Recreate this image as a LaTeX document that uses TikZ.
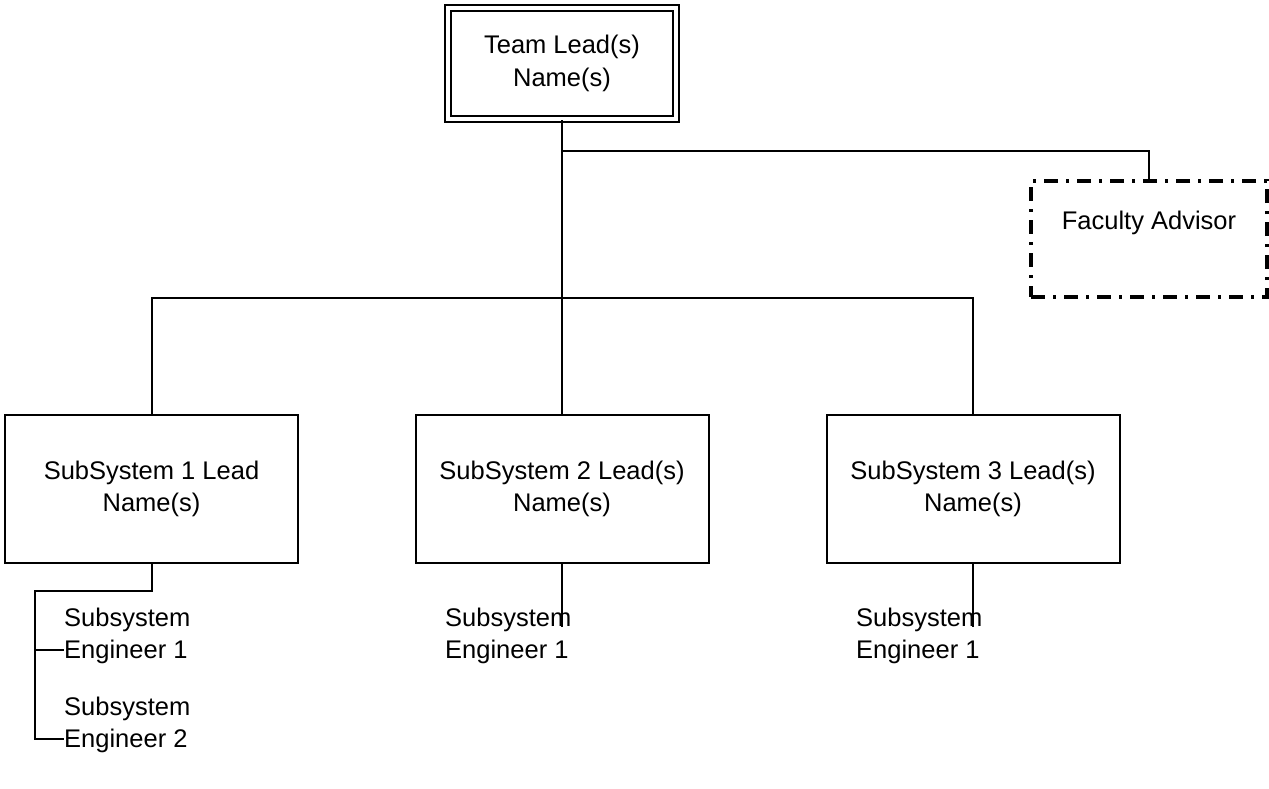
\documentclass[tikz,border=0pt]{standalone}
\usepackage{fontspec}
\setmainfont{Liberation Sans}
\begin{document}
\begin{tikzpicture}[x=1pt,y=-1pt,
  txt/.style={font=\fontsize{25.5}{32}\selectfont, align=center, inner sep=0pt},
  ltxt/.style={font=\fontsize{25.5}{32}\selectfont, align=left, inner sep=0pt, anchor=west},
  ssbox/.style={draw, line width=2pt, minimum width=293pt, minimum height=148pt, inner sep=0pt, font=\fontsize{25.5}{32}\selectfont, align=center},
  leadbox/.style={draw, double, double distance=4pt, line width=2pt, minimum width=228pt, minimum height=111pt, inner sep=0pt, font=\fontsize{25.5}{32}\selectfont, align=center},
  advbox/.style={draw, line width=3.5pt, dash pattern=on 14pt off 8pt on 3pt off 8pt, minimum width=236pt, minimum height=116pt, inner sep=0pt},
  conn/.style={line width=2pt}]
\useasboundingbox (0,0) rectangle (1269,788);
\node[leadbox] (tl) at (562,63.5) {\raisebox{-2pt}{\shortstack{Team Lead(s)\\[6pt]Name(s)}}};
\node[advbox] (fa) at (1149,239) {};
\node[txt] (fat) at (1149,223) {Faculty Advisor};
\node[ssbox] (ss1) at (151.5,489) {\raisebox{-2pt}{\shortstack{SubSystem 1 Lead\\[6pt]Name(s)}}};
\node[ssbox] (ss2) at (562,489) {\raisebox{-2pt}{\shortstack{SubSystem 2 Lead(s)\\[6pt]Name(s)}}};
\node[ssbox] (ss3) at (973,489) {\raisebox{-2pt}{\shortstack{SubSystem 3 Lead(s)\\[6pt]Name(s)}}};
\node[ltxt] (e11) at (64,636) {Subsystem\\Engineer 1};
\node[ltxt] (e12) at (64,725) {Subsystem\\Engineer 2};
\node[ltxt] (e21) at (445,636) {Subsystem\\Engineer 1};
\node[ltxt] (e31) at (856,636) {Subsystem\\Engineer 1};
\coordinate (j1) at (562,151);
\coordinate (j2) at (562,298);
\coordinate (k1) at (35,591);
\coordinate (t2) at (562,627);
\coordinate (t3) at (973,627);
% connectors
\draw[conn] (tl.south) -- (ss2.north);
\draw[conn] (j1) -| (fa.north);
\draw[conn] (ss1.north) |- (j2) -| (ss3.north);
\draw[conn] (ss1.south) |- (k1) |- ([yshift=-14pt]e11.west);
\draw[conn] (k1) |- ([yshift=-14pt]e12.west);
\draw[conn] (ss2.south) -- (t2);
\draw[conn] (ss3.south) -- (t3);
\end{tikzpicture}
\end{document}
